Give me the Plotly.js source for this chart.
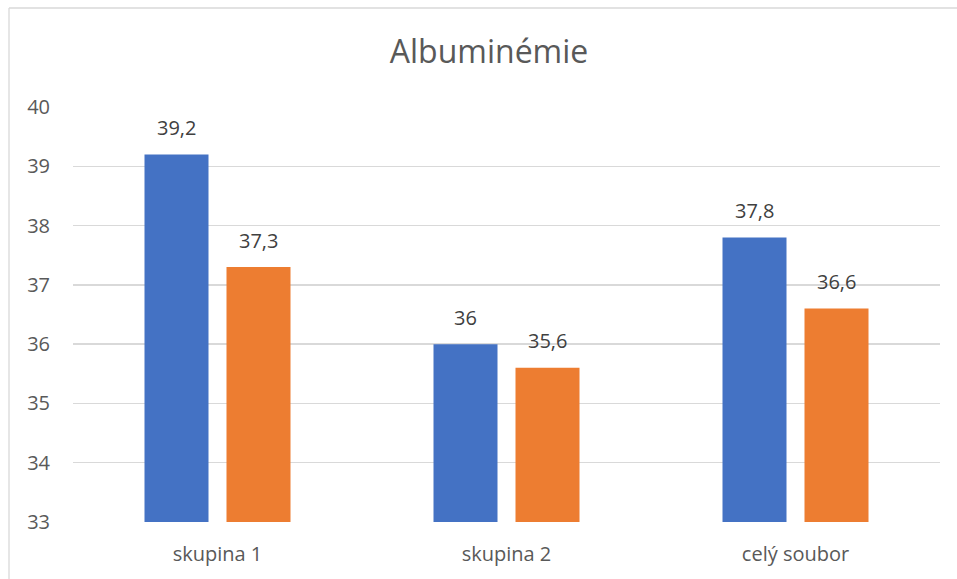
<!DOCTYPE html>
<html>
<head>
<meta charset="utf-8">
<script src="https://cdn.plot.ly/plotly-3.0.1.min.js"></script>
<style>html,body{margin:0;padding:0;background:#fff;}#chart{width:957px;height:579px;}</style>
</head>
<body>
<div id="chart"></div>
<script>
const categories = ["skupina 1", "skupina 2", "celý soubor"];
const series1 = [39.2, 36, 37.8];
const series2 = [37.3, 35.6, 36.6];
const yTicks = [33, 34, 35, 36, 37, 38, 39, 40];

const fmt = v => String(v).replace('.', ',');
const FONT = "Open Sans, Noto Sans, sans-serif";

const traces = [
  {type: 'bar', x: categories, y: series1, marker: {color: '#4472C4'}, name: 's1', base: 0},
  {type: 'bar', x: categories, y: series2, marker: {color: '#ED7D31'}, name: 's2', base: 0}
];

const annotations = [];
[series1, series2].forEach((s, i) => {
  s.forEach((v, j) => {
    annotations.push({
      x: categories[j], y: v, xref: 'x', yref: 'y',
      text: fmt(v), showarrow: false, yanchor: 'middle',
      xshift: i === 0 ? -41 : 41, yshift: 27,
      font: {family: FONT, size: 20, color: '#404040'}
    });
  });
});

const L = 73, R = 17, T = 107, B = 57, W = 957, H = 579;
const pw = W - L - R, ph = H - T - B;
const px = x => (x - L) / pw;
const py = y => 1 - (y - T) / ph;

const layout = {
  width: W, height: H,
  margin: {l: L, r: R, t: T, b: B},
  paper_bgcolor: '#fff', plot_bgcolor: '#fff',
  showlegend: false,
  barmode: 'group', bargap: 0.4325, bargroupgap: 0.2195,
  title: {text: 'Albuminémie', x: 0.511, xanchor: 'center', y: 1 - 52/H, yanchor: 'middle',
          font: {family: FONT, size: 32, color: '#595959'}},
  xaxis: {type: 'category', showgrid: false, zeroline: false, showline: false, ticks: '',
          tickfont: {family: FONT, size: 20, color: '#595959'}, ticklabelstandoff: 18},
  yaxis: {range: [33, 40], tickvals: yTicks, ticktext: yTicks.map(String),
          showgrid: true, gridcolor: '#d9d9d9', gridwidth: 1.3, zeroline: false, showline: false,
          ticks: '', tickfont: {family: FONT, size: 20, color: '#595959'}, ticklabelstandoff: 22},
  annotations: annotations,
  shapes: [
    {type: 'line', xref: 'paper', yref: 'paper', x0: px(9), x1: px(957), y0: py(8), y1: py(8), line: {color: '#d9d9d9', width: 1.3}},
    {type: 'line', xref: 'paper', yref: 'paper', x0: px(9), x1: px(9), y0: py(8), y1: py(579), line: {color: '#d9d9d9', width: 1.3}}
  ]
};

Plotly.newPlot('chart', traces, layout, {displayModeBar: false, staticPlot: true});
</script>
</body>
</html>
